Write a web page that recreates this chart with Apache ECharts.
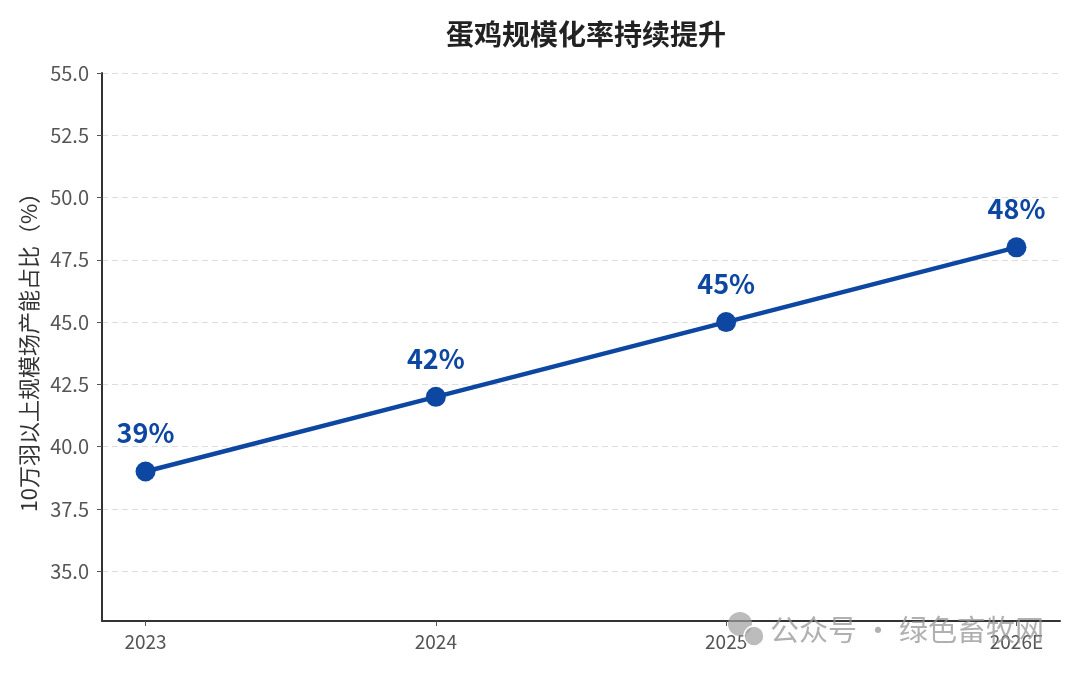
<!DOCTYPE html>
<html>
<head>
<meta charset="utf-8">
<script src="https://cdn.jsdelivr.net/npm/echarts@6/dist/echarts.min.js"></script>
<style>html,body{margin:0;padding:0;background:#fff}#c{width:1080px;height:675px}</style>
</head>
<body>
<div id="c"></div>
<script>
const categories = ['2023', '2024', '2025', '2026E'];
const shareValues = [39, 42, 45, 48];
const yTicks = [35.0, 37.5, 40.0, 42.5, 45.0, 47.5, 50.0, 52.5, 55.0];

const FONT = '"Noto Sans CJK SC", "Noto Sans", sans-serif';
const BLUE = '#0d47a1';
const chart = echarts.init(document.getElementById('c'));
const points = shareValues.map((v, i) => [i, v]);

chart.setOption({
  animation: false,
  backgroundColor: '#ffffff',
  title: {
    text: '蛋鸡规模化率持续提升',
    left: 581, top: 15, textAlign: 'center',
    textStyle: { fontFamily: FONT, fontSize: 28, fontWeight: 'bold', color: '#222' }
  },
  grid: { left: 102, right: 20, top: 73, bottom: 54, containLabel: false },
  xAxis: {
    type: 'value', min: -0.15, max: 3.15,
    splitLine: { show: false },
    axisLine: { show: true, onZero: false, lineStyle: { color: '#333', width: 2 } },
    axisTick: { show: true, customValues: categories.map((c, i) => i), length: 5, lineStyle: { color: '#555' } },
    axisLabel: {
      customValues: categories.map((c, i) => i),
      formatter: v => categories[Math.round(v)],
      fontFamily: FONT, fontSize: 19, color: '#555', margin: 11
    }
  },
  yAxis: {
    type: 'value', min: 33, max: 55,
    name: '10万羽以上规模场产能占比（%）',
    nameLocation: 'middle', nameGap: 61,
    nameTextStyle: { fontFamily: FONT, fontSize: 22, color: '#333' },
    splitLine: { show: false },
    axisLine: { show: true, onZero: false, lineStyle: { color: '#333', width: 2 } },
    axisTick: { show: true, customValues: yTicks, length: 5, lineStyle: { color: '#555' } },
    axisLabel: {
      customValues: yTicks,
      formatter: v => v.toFixed(1),
      fontFamily: FONT, fontSize: 20, color: '#555', margin: 13
    }
  },
  graphic: [{
    type: 'text', left: 770, top: 615, z: 100, silent: true,
    style: { text: '公众号 · 绿色畜牧网', fill: 'rgba(150,150,150,0.75)', font: '29px "Noto Sans CJK SC", sans-serif' }
  }, {
    type: 'circle', shape: { cx: 740, cy: 624, r: 12 }, z: 100, silent: true,
    style: { fill: 'rgba(160,160,160,0.7)' }
  }, {
    type: 'circle', shape: { cx: 754, cy: 636, r: 10 }, z: 100, silent: true,
    style: { fill: 'rgba(160,160,160,0.7)', stroke: '#fff', lineWidth: 1.5 }
  }],
  series: [{
    type: 'line',
    data: [],
    z: 0,
    markLine: {
      z: 0,
      silent: true, symbol: ['none', 'none'], animation: false,
      label: { show: false },
      lineStyle: { color: '#dddddd', type: [6, 4], width: 1.2 },
      data: yTicks.map(t => ({ yAxis: t }))
    }
  }, {
    type: 'line',
    data: points,
    symbol: 'circle', symbolSize: 20,
    lineStyle: { color: BLUE, width: 4.5 },
    itemStyle: { color: BLUE },
    label: {
      show: true, position: 'top', distance: 15,
      formatter: p => p.value[1] + '%',
      fontFamily: FONT, fontSize: 27, fontWeight: 'bold', color: BLUE
    },
    z: 3
  }]
});
</script>
</body>
</html>
